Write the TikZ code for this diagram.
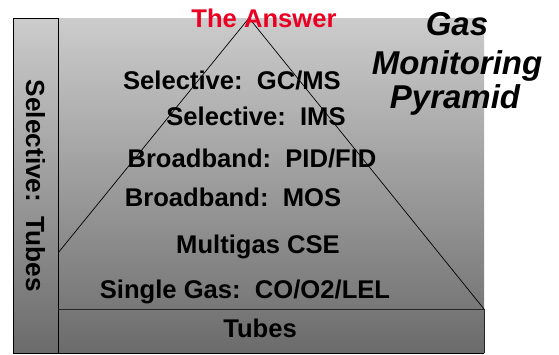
\documentclass[tikz,border=0pt]{standalone}
\usepackage{fontspec}
\setmainfont{Liberation Sans}
\usetikzlibrary{positioning}
\definecolor{answerred}{RGB}{235,0,35}

\begin{document}
\begin{tikzpicture}[x=1pt,y=-1pt]
    \tikzstyle{lvl} = [draw=none,fill=none,anchor=base,inner sep=0pt,font=\fontsize{25.6}{30}\selectfont\bfseries]
    \tikzstyle{ttl} = [draw=none,fill=none,anchor=base,inner sep=0pt,font=\fontsize{33}{38}\selectfont\bfseries\itshape]
    \tikzstyle{panel} = [top color=black!20,bottom color=black!58]

    \useasboundingbox (0,0) rectangle (559,354);
    \shade[panel] (13,18) rectangle (484,353);

    % pyramid outline
    \coordinate (apex) at (249,18);
    \coordinate (lfoot) at (58,253);
    \coordinate (rfoot) at (484,309);
    \draw[line width=0.7pt] (lfoot) -- (apex) -- (rfoot);

    % side column and base
    \shade[panel,draw=black,line width=0.9pt] (13,18) rectangle (58,353);
    \draw[line width=0.9pt,draw=black!85] (58,309) -- (484,309) -- (484,353);
    \draw[line width=0.9pt] (13,353) -- (484,353);

    \node[lvl,text=answerred] (answer) at (264,27) {The Answer};
    \node[lvl] (gcms) at (232,89) {Selective:\ \ GC/MS};
    \node[lvl] (ims) at (256,125) {Selective:\ \ IMS};
    \node[lvl] (pid) at (252,167) {Broadband:\ \ PID/FID};
    \node[lvl] (mos) at (233,206) {Broadband:\ \ MOS};
    \node[lvl] (cse) at (258,253) {Multigas CSE};
    \node[lvl] (single) at (245,298) {Single Gas:\ \ CO/O2/LEL};
    \node[lvl] (tubes) at (260,337) {Tubes};
    \node[lvl,anchor=center,rotate=-90,font=\fontsize{26.2}{30}\selectfont\bfseries] (side) at (35.5,186) {Selective:\ \ Tubes};

    \node[ttl] (gas) at (457,35) {Gas};
    \node[ttl] (monit) at (457,74) {Monitoring};
    \node[ttl] (pyr) at (455,108) {Pyramid};
\end{tikzpicture}
\end{document}
